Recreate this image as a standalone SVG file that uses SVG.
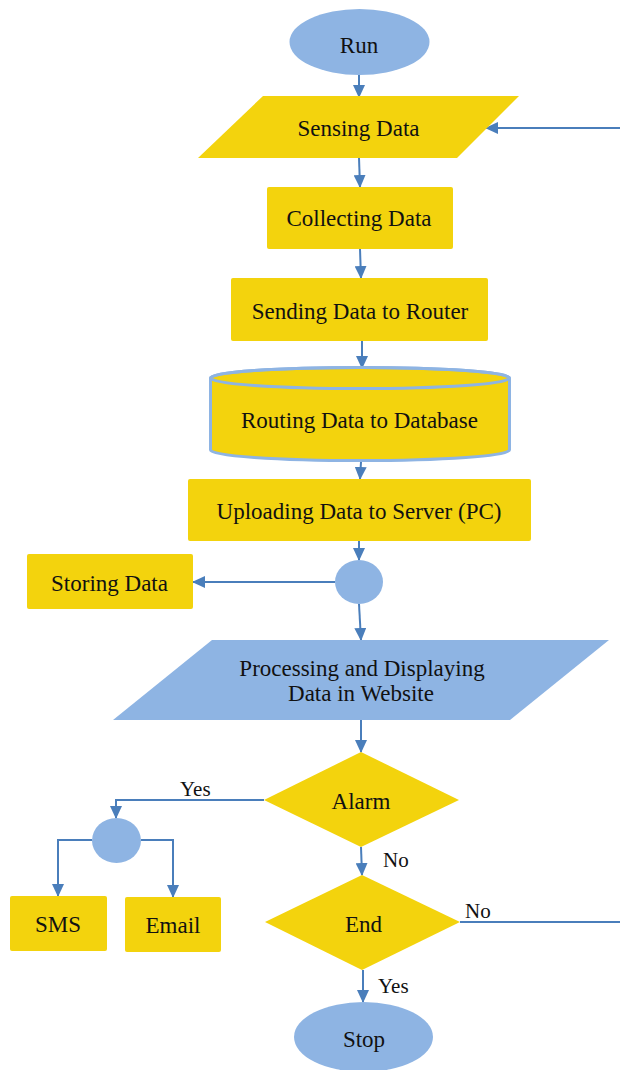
<svg xmlns="http://www.w3.org/2000/svg" width="620" height="1070" viewBox="0 0 620 1070">
<defs>
<marker id="arr" markerUnits="userSpaceOnUse" markerWidth="13" markerHeight="12" refX="12" refY="6" orient="auto">
<path d="M0,0 L13,6 L0,12 Z" fill="#4A7EBB"/>
</marker>
</defs>
<style>
.y{fill:#F3D30D;}
.b{fill:#8EB4E3;}
text{font-family:'Liberation Serif','Times New Roman','DejaVu Serif',serif;fill:#111;}
.t{font-size:23px;text-anchor:middle;}
.l{font-size:21px;}
.c{fill:none;stroke:#4A7EBB;stroke-width:2;}
.a{marker-end:url(#arr);}
</style>
<rect width="620" height="1070" fill="#fff"/>
<g id="connectors" font-family="Liberation Serif, serif">
<path class="c a" d="M359,75 L359,97"/>
<path class="c a" d="M620,128 L486,128"/>
<path class="c a" d="M359,158 L360,187"/>
<path class="c a" d="M360,249 L361,278"/>
<path class="c a" d="M362,341 L362,368"/>
<path class="c a" d="M361,462 L360,479"/>
<path class="c a" d="M359,541 L359,560"/>
<path class="c a" d="M335,582 L193,582"/>
<path class="c a" d="M359,604 L361,640"/>
<path class="c a" d="M361,720 L361,752"/>
<path class="c a" d="M264,800 H116 V818"/>
<path class="c a" d="M92,840 H58 V896"/>
<path class="c a" d="M141,840 H173 V897"/>
<path class="c a" d="M361,847 L362,875"/>
<path class="c" d="M460,922 H620"/>
<path class="c a" d="M363,970 L363,1002"/>
<text class="l" x="180" y="796" font-family="Liberation Serif, serif">Yes</text>
<text class="l" x="383" y="867" font-family="Liberation Serif, serif">No</text>
<text class="l" x="465" y="918" font-family="Liberation Serif, serif">No</text>
<text class="l" x="378" y="993" font-family="Liberation Serif, serif">Yes</text>
</g>
<g id="run" font-family="Liberation Serif, serif">
<ellipse class="b" cx="359.5" cy="42" rx="70" ry="33"/>
<text class="t" x="359" y="53">Run</text>
</g>
<g id="sensing" font-family="Liberation Serif, serif">
<polygon class="y" points="263,96 519,96 457,158 198,158"/>
<text class="t" x="358.5" y="136">Sensing Data</text>
</g>
<g id="collecting" font-family="Liberation Serif, serif">
<rect class="y" x="267" y="187" width="186" height="62" rx="2"/>
<text class="t" x="359" y="226">Collecting Data</text>
</g>
<g id="sending" font-family="Liberation Serif, serif">
<rect class="y" x="231" y="278" width="257" height="63" rx="2"/>
<text class="t" x="360" y="319">Sending Data to Router</text>
</g>
<g id="routing" font-family="Liberation Serif, serif">
<path class="y" d="M210.5,378 A149.5,10.5 0 0 1 509.5,378 V450 A149.5,10.5 0 0 1 210.5,450 Z" stroke="#8EB4E3" stroke-width="3"/>
<ellipse cx="360" cy="378" rx="149.5" ry="10.5" fill="none" stroke="#8EB4E3" stroke-width="3"/>
<text class="t" x="359.5" y="428">Routing Data to Database</text>
</g>
<g id="uploading" font-family="Liberation Serif, serif">
<rect class="y" x="188" y="479" width="343" height="62" rx="2"/>
<text class="t" x="359" y="519">Uploading Data to Server (PC)</text>
</g>
<g id="junction1">
<ellipse class="b" cx="359" cy="582" rx="24" ry="22"/>
</g>
<g id="storing" font-family="Liberation Serif, serif">
<rect class="y" x="27" y="554" width="166" height="55" rx="2"/>
<text class="t" x="109.5" y="591">Storing Data</text>
</g>
<g id="processing" font-family="Liberation Serif, serif">
<polygon class="b" points="212,640 609,640 510,720 113,720"/>
<text class="t" x="362" y="676">Processing and Displaying</text>
<text class="t" x="361" y="701">Data in Website</text>
</g>
<g id="alarm" font-family="Liberation Serif, serif">
<polygon class="y" points="361,752 459,800 361,847 264,800"/>
<text class="t" x="361" y="809">Alarm</text>
</g>
<g id="junction2">
<ellipse class="b" cx="116.5" cy="840.5" rx="24.5" ry="22.5"/>
</g>
<g id="sms" font-family="Liberation Serif, serif">
<rect class="y" x="10" y="896" width="97" height="55" rx="2"/>
<text class="t" x="58" y="932">SMS</text>
</g>
<g id="email" font-family="Liberation Serif, serif">
<rect class="y" x="125" y="897" width="96" height="55" rx="2"/>
<text class="t" x="173" y="933">Email</text>
</g>
<g id="end" font-family="Liberation Serif, serif">
<polygon class="y" points="362,875 460,922 362,970 265,922"/>
<text class="t" x="363.5" y="932">End</text>
</g>
<g id="stop" font-family="Liberation Serif, serif">
<ellipse class="b" cx="363.5" cy="1037" rx="69.5" ry="35"/>
<text class="t" x="364" y="1047">Stop</text>
</g>
</svg>
